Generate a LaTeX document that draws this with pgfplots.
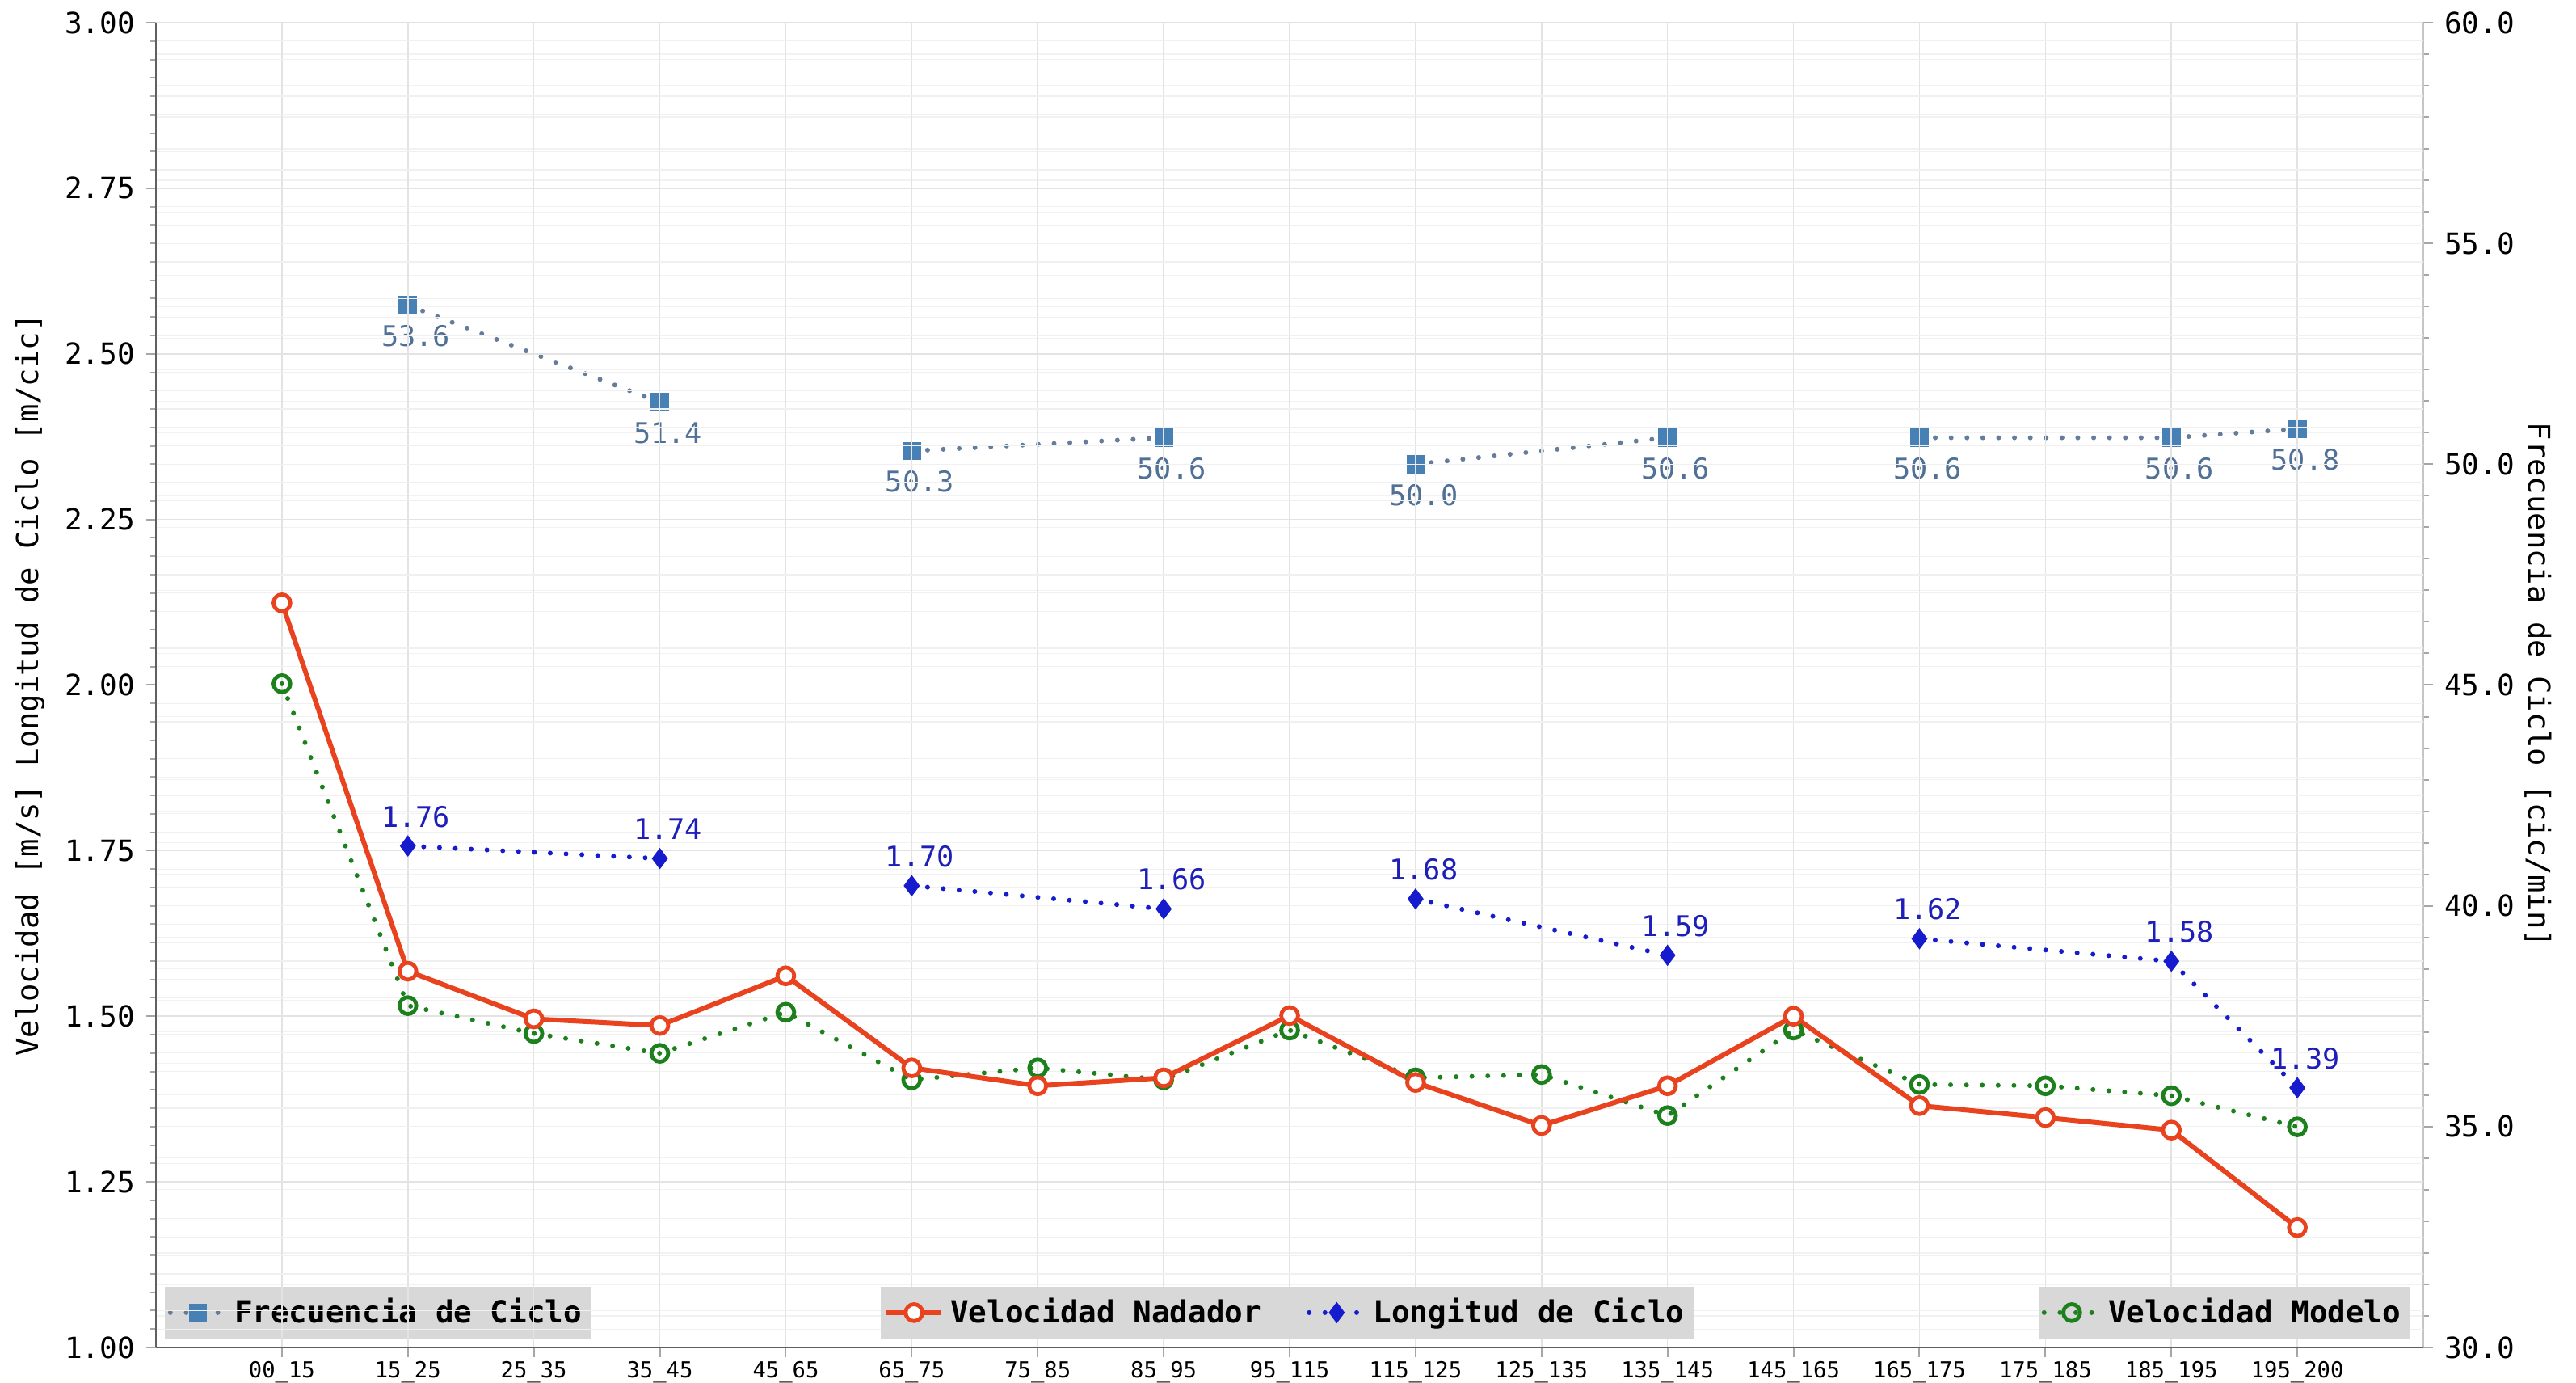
\documentclass[border=0pt]{standalone}
\usepackage{fontspec}
\setmainfont{DejaVu Sans Mono}
\usepackage{pgfplots}
\pgfplotsset{compat=1.18}
\definecolor{cRed}{RGB}{232,66,30}
\definecolor{cGreen}{RGB}{28,128,28}
\definecolor{cBlue}{RGB}{22,28,205}
\definecolor{cBlueTxt}{RGB}{30,30,185}
\definecolor{cSteel}{RGB}{70,128,180}
\definecolor{cFreqLine}{RGB}{100,125,155}
\definecolor{cFreqTxt}{RGB}{80,112,150}
\definecolor{cLegBg}{RGB}{216,216,216}
\begin{document}
\begin{tikzpicture}
\useasboundingbox (-48.25pt,-11pt) rectangle (748.75pt,416.75pt);
\pgfplotsset{
  base/.style={scale only axis, width=701.5pt, height=409.75pt, at={(0,0)}, anchor=south west,
    xmin=-1, xmax=17, unbounded coords=jump,
    /pgf/number format/assume math mode=true,
    tick align=outside, major tick length=3pt, minor tick length=1.8pt,
    tick style={gray!70, line width=0.5pt},
    legend cell align=left,
    legend style={fill=cLegBg, draw=none, inner xsep=1pt, inner ysep=1.5pt,
      font=\fontsize{9.4}{11}\selectfont\bfseries, text=black,
      /tikz/every even column/.append style={column sep=12pt}},
  },
  dotline/.style={line width=1.5pt, dash pattern=on 0pt off 4.9pt, line cap=round},
}
% ---------- right axis: Frecuencia de Ciclo ----------
\begin{axis}[base, ymin=30, ymax=60,
  axis y line*=right, axis x line=none,
  axis line style={gray!45, line width=0.6pt},
  ytick={30,35,40,45,50,55,60}, minor y tick num=6,
  yminorgrids, minor grid style={gray!10, line width=0.3pt},
  yticklabel style={font=\fontsize{9}{10}\selectfont, /pgf/number format/.cd, fixed, fixed zerofill, precision=1},
  ylabel={Frecuencia de Ciclo [cic/min]},
  ylabel style={at={(axis description cs:1.0506,0.5)}, anchor=center, rotate=180, font=\fontsize{9.3}{11}\selectfont},
  legend style={at={(0,0)}, anchor=south west, xshift=2.5pt, yshift=2.5pt},
]
\addplot[cFreqLine, dotline, mark=square*, mark size=2.6pt,
  mark options={solid, fill=cSteel, draw=cSteel, line width=0.5pt},
  nodes near coords={\pgfmathprintnumber[fixed,fixed zerofill,precision=1]{\pgfplotspointmeta}},
  nodes near coords style={anchor=center, yshift=-9.5pt, xshift=2.5pt, text=cFreqTxt, font=\fontsize{8.8}{10}\selectfont}]
coordinates {(1,53.6) (3,51.4) (4,nan) (5,50.3) (7,50.6) (8,nan) (9,50.0) (11,50.6) (12,nan) (13,50.6) (15,50.6) (16,50.8)};
\addlegendentry{Frecuencia de Ciclo}
\end{axis}
% ---------- left axis ----------
\begin{axis}[base, ymin=1, ymax=3,
  axis y line*=left, axis x line*=bottom,
  axis line style={gray!75!black, line width=0.6pt},
  xtick={0,...,16},
  xticklabels={00\_15,15\_25,25\_35,35\_45,45\_65,65\_75,75\_85,85\_95,95\_115,115\_125,125\_135,135\_145,145\_165,165\_175,175\_185,185\_195,195\_200},
  xticklabel style={font=\fontsize{6.8}{8}\selectfont, yshift=2.3pt},
  ytick={1,1.25,1.5,1.75,2,2.25,2.5,2.75,3}, minor y tick num=8,
  xmajorgrids, ymajorgrids, yminorgrids,
  major grid style={gray!22, line width=0.4pt},
  minor grid style={gray!12, line width=0.3pt},
  yticklabel style={font=\fontsize{9}{10}\selectfont, /pgf/number format/.cd, fixed, fixed zerofill, precision=2},
  ylabel={Velocidad [m/s] Longitud de Ciclo [m/cic]},
  ylabel style={at={(axis description cs:-0.0556,0.5)}, anchor=center, font=\fontsize{9.3}{11}\selectfont},
  legend columns=2,
  legend style={at={(0.499,0)}, anchor=south, yshift=2.5pt},
]
\addplot[cGreen, dotline, mark=o, mark size=2.6pt, mark options={solid, fill=white, line width=1.2pt}, forget plot]
coordinates {(0,2.002) (1,1.516) (2,1.474) (3,1.444) (4,1.506) (5,1.404) (6,1.422) (7,1.404) (8,1.479) (9,1.407) (10,1.412) (11,1.350) (12,1.479) (13,1.397) (14,1.395) (15,1.380) (16,1.333)};
\addplot[cRed, line width=1.5pt, mark=*, mark size=2.6pt, mark options={solid, fill=white, line width=1.2pt}]
coordinates {(0,2.124) (1,1.568) (2,1.496) (3,1.486) (4,1.561) (5,1.422) (6,1.395) (7,1.407) (8,1.501) (9,1.400) (10,1.335) (11,1.395) (12,1.500) (13,1.365) (14,1.347) (15,1.328) (16,1.181)};
\addlegendentry{Velocidad Nadador}
\addplot[cBlue, dotline, mark=diamond*, mark size=2.9pt, mark options={solid, fill=cBlue, draw=cBlue, line width=0.5pt},
  nodes near coords={\pgfmathprintnumber[fixed,fixed zerofill,precision=2]{\pgfplotspointmeta}},
  nodes near coords style={anchor=center, yshift=9.1pt, xshift=2.5pt, text=cBlueTxt, font=\fontsize{8.8}{10}\selectfont}]
coordinates {(1,1.757) (3,1.738) (4,nan) (5,1.697) (7,1.662) (8,nan) (9,1.677) (11,1.592) (12,nan) (13,1.617) (15,1.583) (16,1.392)};
\addlegendentry{Longitud de Ciclo}
\end{axis}
% ---------- legend for Velocidad Modelo ----------
\begin{axis}[base, ymin=1, ymax=3, hide axis,
  legend style={at={(1,0)}, anchor=south east, xshift=-3.75pt, yshift=2.5pt}]
\addlegendimage{cGreen, dotline, mark=o, mark size=2.6pt, mark options={solid, fill=white, line width=1.2pt}}
\addlegendentry{Velocidad Modelo}
\end{axis}
\end{tikzpicture}
\end{document}
